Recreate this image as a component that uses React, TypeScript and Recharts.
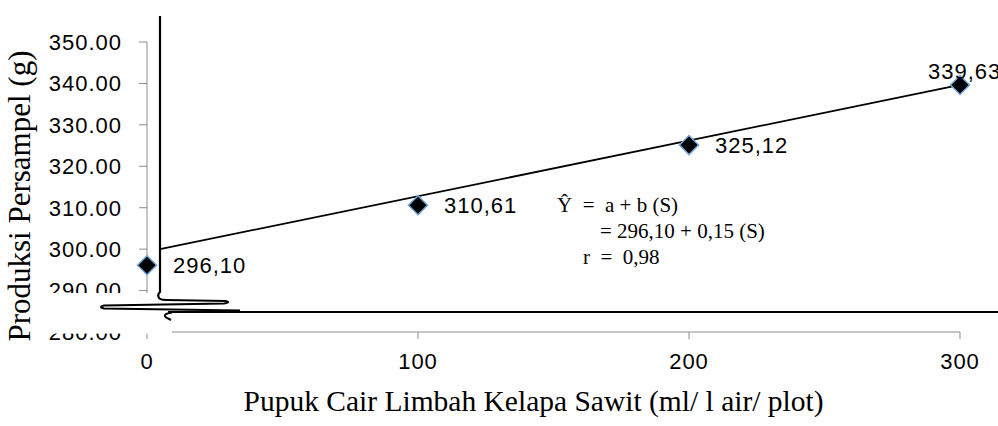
import React from "react";
import {
  ComposedChart,
  Line,
  Scatter,
  XAxis,
  YAxis,
  LabelList,
} from "recharts";

// ---- data ----
const doseLevels = [0, 100, 200, 300];
const productionValues = [296.1, 310.61, 325.12, 339.63];
const regressionX = [4.8, 300];
const regressionY = [300, 339.63];
const yTicks = [280, 290, 300, 310, 320, 330, 340, 350];
const xTicks = [0, 100, 200, 300];
const equationLines = ["Ŷ  =  a + b (S)", "= 296,10 + 0,15 (S)", "r  =  0,98"];
const xTitle = "Pupuk Cair Limbah Kelapa Sawit (ml/ l air/ plot)";
const yTitle = "Produksi Persampel (g)";

const points = doseLevels.map((x, i) => ({ x, y: productionValues[i] }));
const regression = regressionX.map((x, i) => ({ x, y: regressionY[i] }));

const W = 998;
const H = 426;
const NUM_FONT = "'Liberation Sans', Arial, sans-serif";
const SERIF = "'Liberation Serif', 'Times New Roman', serif";
const AXIS_GREY = "#8c8c8c";
const nb = (s: string) => s.replace(/ /g, "\u00A0");

const Diamond = (props: any) => {
  const { cx, cy } = props;
  if (cx == null || cy == null) return null;
  const r = 9.5;
  return (
    <polygon
      points={`${cx},${cy - r} ${cx + r},${cy} ${cx},${cy + r} ${cx - r},${cy}`}
      fill="#000"
      stroke="#6fa3d8"
      strokeWidth={1.5}
    />
  );
};

const PointLabel = (props: any) => {
  const { x, y, width, height, value, index } = props;
  const cx = x + width / 2;
  const cy = y + height / 2;
  const text = Number(value).toFixed(2).replace(".", ",");
  const last = index === productionValues.length - 1;
  return (
    <text
      x={last ? cx - 32 : cx + 26}
      y={last ? cy - 6 : cy + 8}
      fontFamily={NUM_FONT}
      fontSize={22}
      letterSpacing={1}
      fill="#000"
    >
      {text}
    </text>
  );
};

export default function App() {
  return (
    <div style={{ position: "absolute", left: 0, top: 0, width: W, height: H, background: "#fff" }}>
      <ComposedChart
        width={W}
        height={H}
        margin={{ top: 42, right: 38, bottom: 0, left: 0 }}
      >
        <XAxis
          type="number"
          dataKey="x"
          domain={[0, 300]}
          ticks={xTicks}
          height={94}
          tickSize={7}
          tickMargin={14}
          stroke={AXIS_GREY}
          tick={{ fill: "#000", fontFamily: NUM_FONT, fontSize: 22, letterSpacing: 1 }}
          label={{
            value: xTitle,
            position: "insideBottom",
            offset: 15,
            dx: -20,
            style: { fontFamily: SERIF, fontSize: 29.5, fill: "#000" },
          }}
        />
        <YAxis
          type="number"
          domain={[280, 350]}
          ticks={yTicks}
          width={147}
          tickSize={8}
          tickMargin={17}
          stroke={AXIS_GREY}
          tickFormatter={(v: number) => v.toFixed(2)}
          tick={{ fill: "#000", fontFamily: NUM_FONT, fontSize: 22, letterSpacing: 1 }}
        />
        <Line
          data={regression}
          dataKey="y"
          stroke="#000"
          strokeWidth={1.8}
          dot={false}
          isAnimationActive={false}
        />
        <Scatter
          data={points}
          dataKey="y"
          shape={<Diamond />}
          isAnimationActive={false}
        >
          <LabelList dataKey="y" content={<PointLabel />} />
        </Scatter>
      </ComposedChart>
      <svg
        width={W}
        height={H}
        style={{ position: "absolute", left: 0, top: 0, pointerEvents: "none" }}
      >
        {/* axis break cover */}
        <rect x={40} y={293} width={132} height={40.6} fill="#fff" />
        {/* broken vertical axis */}
        <path
          d="M160,16 L160,292 Q157.5,294 158.5,297 Q159.5,300 166,300 L226,301"
          fill="none"
          stroke="#000"
          strokeWidth={2.2}
        />
        <path
          d="M226,301 Q231,302.5 224,303.5 L104,305.5 Q98,307 104,308.5 L240,310.5"
          fill="none"
          stroke="#000"
          strokeWidth={2}
        />
        <path d="M168,312 L998,312" fill="none" stroke="#000" strokeWidth={2} />
        <path
          d="M172,312.5 Q162,314 166,317.5 L171,320"
          fill="none"
          stroke="#000"
          strokeWidth={2}
        />
        {/* y axis title */}
        <text
          transform="translate(30,196) rotate(-90)"
          textAnchor="middle"
          fontFamily={SERIF}
          fontSize={31}
          fill="#000"
        >
          {yTitle}
        </text>
        {/* regression equation */}
        <g fontFamily={SERIF} fontSize={21} fill="#000">
          <text x={557} y={212}>{nb(equationLines[0])}</text>
          <text x={600} y={238}>{nb(equationLines[1])}</text>
          <text x={583} y={264}>{nb(equationLines[2])}</text>
        </g>
      </svg>
    </div>
  );
}
